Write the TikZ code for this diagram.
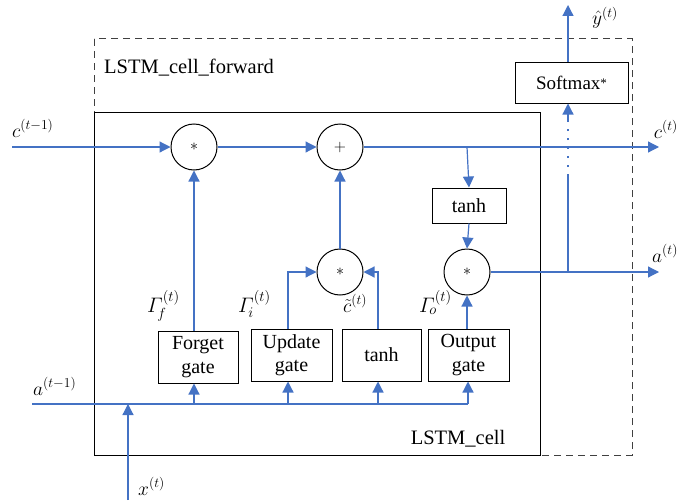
\RequirePackage{fix-cm}
\documentclass[tikz,border=0pt]{standalone}
\usepackage{amsmath}
\usepackage{fontspec}
\setmainfont{Liberation Serif}
\usetikzlibrary{arrows.meta}
\definecolor{lblue}{RGB}{68,114,196}
\tikzset{
  conn/.style={draw=lblue, line width=1.2pt},
  arr/.style={conn, -{Triangle[length=11pt,width=11pt]}},
  opcircle/.style={circle, draw=black, line width=1pt, minimum size=46pt, inner sep=0pt, font=\fontsize{16}{18}\selectfont},
  gatebox/.style={rectangle, draw=black, line width=1pt, minimum width=80pt, minimum height=52pt, inner sep=0pt, align=center, font=\fontsize{20}{23.5}\selectfont},
  lbl/.style={inner sep=0pt, font=\fontsize{19.5}{23}\selectfont},
  glbl/.style={inner sep=0pt, font=\fontsize{21}{24}\selectfont},
}
\begin{document}
\begin{tikzpicture}[x=1pt,y=-1pt]
\useasboundingbox (0,0) rectangle (679,503);
% boxes
\draw[black!75, line width=1pt, dash pattern=on 7pt off 5pt] (94,39) rectangle (632,455);
\draw[black, line width=1pt] (94,112) rectangle (540,455);
\node[lbl, font=\fontsize{20.5}{24}\selectfont, anchor=base west] (fwdlbl) at (104,73) {LSTM\_cell\_forward};
\node[lbl, font=\fontsize{20.5}{24}\selectfont, anchor=base] (celllbl) at (458,444) {LSTM\_cell};

% operation circles
\node[opcircle] (fc) at (194,147) {$\ast$};
\node[opcircle] (pc) at (340,147) {$+$};
\node[opcircle] (uc) at (340,272) {$\ast$};
\node[opcircle] (oc) at (467,272) {$\ast$};

% boxes
\node[gatebox, minimum width=74pt, minimum height=35pt] (tanhT) at (469,205.5) {tanh};
\node[gatebox, minimum width=113pt, minimum height=41pt, font=\fontsize{19}{23}\selectfont] (soft) at (571.5,82.5) {Softmax\raisebox{2pt}{\fontsize{13}{13}\selectfont*}};
\node[gatebox] (forget) at (198,357) {Forget\\gate};
\node[gatebox, minimum width=81pt] (update) at (291.5,355) {Update\\gate};
\node[gatebox, minimum width=79pt] (tanhB) at (381.5,355) {tanh};
\node[gatebox, minimum width=81pt] (output) at (468.5,355) {Output\\gate};

% coordinates
\coordinate (cin) at (12,147);
\coordinate (cout) at (659,147);
\coordinate (cbr) at (467,147);
\coordinate (aout) at (659,272);
\coordinate (abr) at (568,272);
\coordinate (sd1) at (568,176);
\coordinate (sd2) at (568,120);
\coordinate (yout) at (568,5);
\coordinate (ain) at (32,404);
\coordinate (aend) at (468,404);
\coordinate (xin) at (128,500);
\coordinate (xend) at (128,404);
\coordinate (uturn) at (288,272);
\coordinate (tturn) at (378,272);

% c line
\draw[arr] (cin) -- (fc.west);
\draw[arr] (fc.east) -- (pc.west);
\draw[arr] (pc.east) -- (cout);
\draw[arr] (cbr) -- (tanhT.north);
\draw[arr] (tanhT.south) -- (oc.north);
\draw[arr] (oc.east) -- (aout);
% softmax branch
\draw[conn] (abr) -- (sd1);
\draw[conn, dash pattern=on 2pt off 7pt] (sd1) -- (sd2);
\draw[arr] (sd2) -- (soft.south -| sd2);
\draw[arr] (soft.north -| sd2) -- (yout);

% gates to ops
\draw[arr] (forget.north -| fc) -- (fc.south);
\draw[arr] (update.north -| uturn) -- (uturn) -- (uc.west);
\draw[arr] (tanhB.north -| tturn) -- (tturn) -- (uc.east);
\draw[arr] (uc.north) -- (pc.south);
\draw[arr] (output.north -| oc) -- (oc.south);

% a line
\draw[conn] (ain) -- (aend);
\draw[arr] (fc |- ain) -- (forget.south -| fc);
\draw[arr] (uturn |- ain) -- (update.south -| uturn);
\draw[arr] (tturn |- ain) -- (tanhB.south -| tturn);
\draw[arr] (aend) -- (output.south -| aend);
\draw[arr] (xin) -- (xend);

% labels
\node[lbl, anchor=base west] (lcin) at (12,137) {$c^{(t-1)}$};
\node[lbl, anchor=base east] (lcout) at (678,138) {$c^{(t)}$};
\node[lbl, anchor=base west] (laout) at (652,262) {$a^{(t)}$};
\node[lbl, anchor=base west] (lyout) at (592,25) {$\hat{y}^{(t)}$};
\node[lbl, anchor=base west] (lain) at (33,395) {$a^{(t-1)}$};
\node[lbl, anchor=base west] (lxin) at (138,495) {$x^{(t)}$};
\node[glbl, anchor=base west] (lgf) at (147,312) {$\varGamma_{\!f}^{(t)}$};
\node[glbl, anchor=base west] (lgi) at (238,312) {$\varGamma_{\!i}^{(t)}$};
\node[lbl, anchor=base west] (lct) at (343,312) {$\tilde{c}^{(t)}$};
\node[glbl, anchor=base west] (lgo) at (419,312) {$\varGamma_{\!o}^{(t)}$};
\end{tikzpicture}
\end{document}
